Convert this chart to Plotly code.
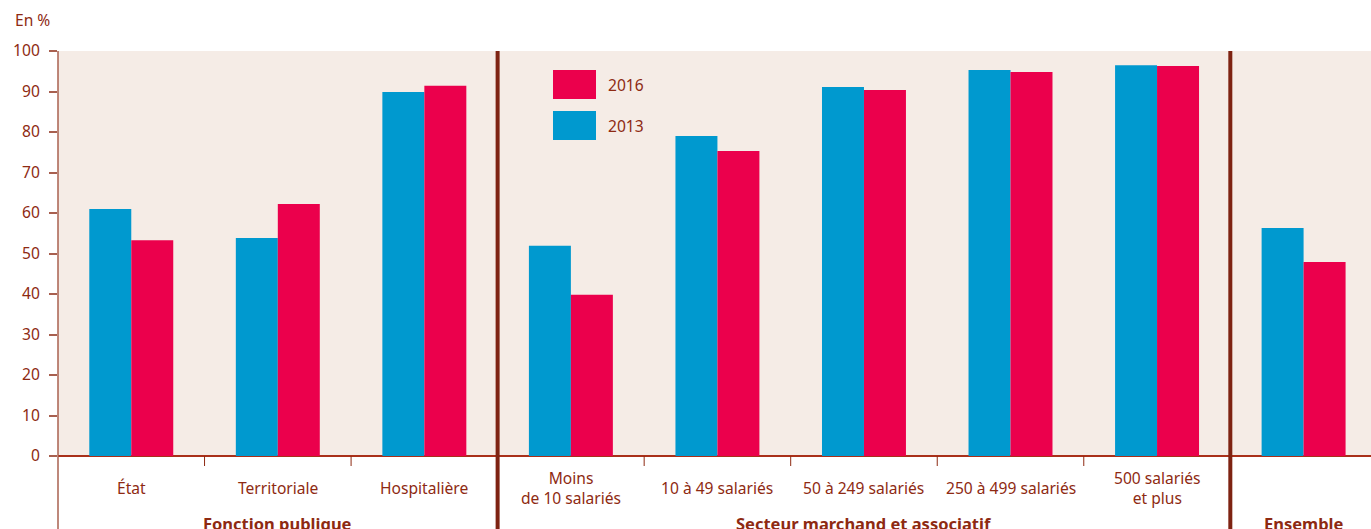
import plotly.graph_objects as go

categories = ["État", "Territoriale", "Hospitalière", "Moins<br>de 10 salariés",
              "10 à 49 salariés", "50 à 249 salariés", "250 à 499 salariés",
              "500 salariés<br>et plus", ""]
values_2013 = [61.0, 53.8, 89.9, 51.9, 79.0, 91.1, 95.3, 96.5, 56.3]
values_2016 = [53.3, 62.2, 91.4, 39.8, 75.3, 90.4, 94.8, 96.3, 47.9]
groups = ["Fonction publique", "Secteur marchand et associatif", "Ensemble"]
group_spans = [(0, 2), (3, 7), (8, 8)]
y_ticks = [0, 10, 20, 30, 40, 50, 60, 70, 80, 90, 100]

BLUE = "#0099CF"
RED = "#EB004C"
TXT = "#8E2A12"
BG = "#F5ECE6"
DARK = "#7E2312"
FONT = "Noto Sans"
FS = 15.6

x = list(range(len(categories)))
fig = go.Figure()
fig.add_bar(x=x, y=values_2013, name="2013", marker=dict(color=BLUE, line=dict(width=0)))
fig.add_bar(x=x, y=values_2016, name="2016", marker=dict(color=RED, line=dict(width=0)))

H_PLOT = 405.0
def py(px_below):
    return -px_below / H_PLOT

annotations = []
for i, c in enumerate(categories):
    if c:
        annotations.append(dict(x=i, y=py(32), xref="x", yref="paper", text=c, showarrow=False,
                                font=dict(family=FONT, size=FS, color=TXT), xanchor="center",
                                yanchor="middle"))
for g, (a, b) in zip(groups, group_spans):
    annotations.append(dict(x=(a + b) / 2, y=py(67), xref="x", yref="paper", text="<b>" + g + "</b>",
                            showarrow=False, font=dict(family=FONT, size=16.5, color=TXT),
                            xanchor="center", yanchor="middle"))
annotations.append(dict(x=-58 / 1313, y=1 + 31 / H_PLOT, xref="paper", yref="paper", text="En %",
                        showarrow=False, xanchor="left", yanchor="middle",
                        font=dict(family=FONT, size=FS, color=TXT), xshift=13))

shapes = []
# separators between groups
for a, b in group_spans[:-1]:
    shapes.append(dict(type="line", xref="x", yref="paper", x0=b + 0.5, x1=b + 0.5, y0=1, y1=py(80),
                       line=dict(color=DARK, width=4)))
# small ticks between categories
sep = [b + 0.5 for a, b in group_spans[:-1]]
for k in range(len(categories) - 1):
    xb = k + 0.5
    if xb in sep:
        continue
    shapes.append(dict(type="line", xref="x", yref="paper", x0=xb, x1=xb, y0=0, y1=py(10),
                       line=dict(color=TXT, width=1)))
# left axis extension
shapes.append(dict(type="line", xref="paper", yref="paper", x0=0, x1=0, y0=1, y1=py(80),
                   line=dict(color="#A8604F", width=1.5)))

# manual legend
leg = [("2016", RED, 70), ("2013", BLUE, 111)]
for name, col, top in leg:
    shapes.append(dict(type="rect", xref="paper", yref="paper",
                       x0=(553 - 58) / 1313, x1=(596 - 58) / 1313,
                       y0=1 - (top - 51) / H_PLOT, y1=1 - (top + 29 - 51) / H_PLOT,
                       fillcolor=col, line=dict(width=0)))
    annotations.append(dict(x=(606 - 58) / 1313, y=1 - (top + 14.5 - 51) / H_PLOT, xref="paper",
                            yref="paper", text=name, showarrow=False, xanchor="left",
                            yanchor="middle", font=dict(family=FONT, size=FS, color=TXT)))

fig.update_layout(
    width=1371, height=529,
    margin=dict(l=58, r=0, t=51, b=73, pad=0),
    paper_bgcolor="white", plot_bgcolor=BG,
    barmode="group", bargap=0.427, bargroupgap=0,
    showlegend=False,
    font=dict(family=FONT, color=TXT),
    xaxis=dict(range=[-0.5, 8.46], showticklabels=False, ticks="", showgrid=False, zeroline=False,
               showline=False, fixedrange=True),
    yaxis=dict(range=[0, 100], tickvals=y_ticks, ticks="outside", ticklen=8, tickcolor="#A8604F",
               tickwidth=1.5, showgrid=False, zeroline=True, zerolinecolor="#A9301A", zerolinewidth=1.5,
               showline=False, tickfont=dict(family=FONT, size=FS, color=TXT), ticklabelstandoff=6),
    annotations=annotations, shapes=shapes,
)
fig.write_html("out.html")
